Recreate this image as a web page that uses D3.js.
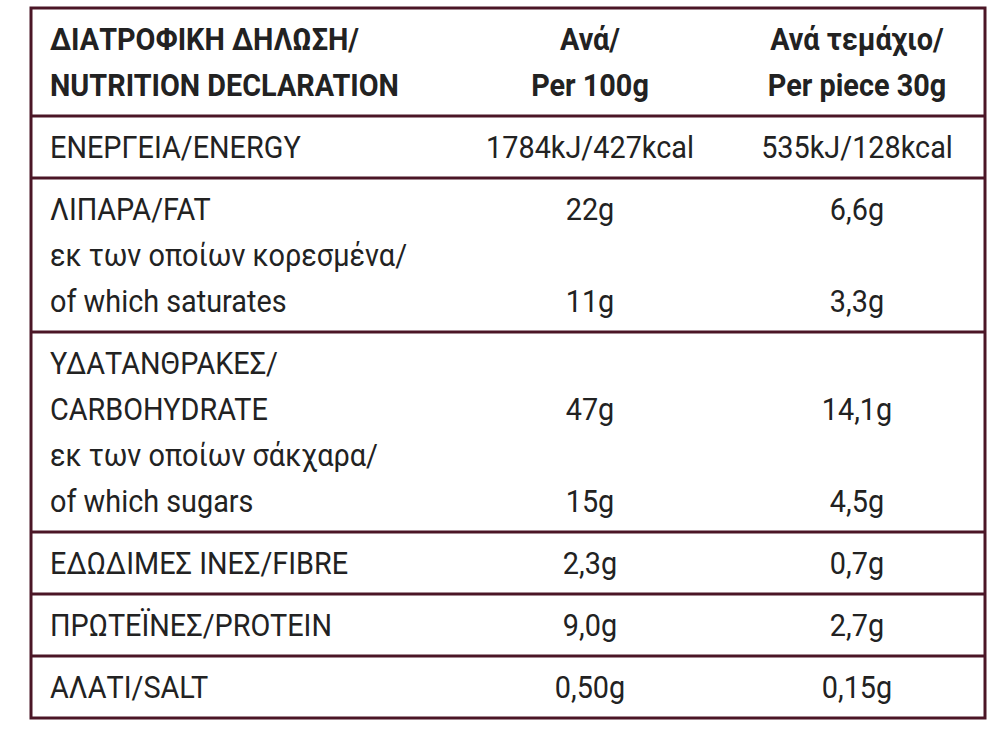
<!DOCTYPE html>
<html><head><meta charset="utf-8">
<script src="https://cdn.jsdelivr.net/npm/d3@7"></script>
<style>body{margin:0;background:#fff}text{font-family:Roboto,sans-serif;fill:#222}</style>
</head><body><svg id="c" width="1000" height="732"></svg>
<script>
const headerLabel=["ΔΙΑΤΡΟΦΙΚΗ ΔΗΛΩΣΗ/","NUTRITION DECLARATION"];
const headerPer100=["Ανά/","Per 100g"];
const headerPiece=["Ανά τεμάχιο/","Per piece 30g"];
const rowLabels=[
 ["ΕΝΕΡΓΕΙΑ/ENERGY"],
 ["ΛΙΠΑΡΑ/FAT","εκ των οποίων κορεσμένα/","of which saturates"],
 ["ΥΔΑΤΑΝΘΡΑΚΕΣ/","CARBOHYDRATE","εκ των οποίων σάκχαρα/","of which sugars"],
 ["ΕΔΩΔΙΜΕΣ ΙΝΕΣ/FIBRE"],
 ["ΠΡΩΤΕΪΝΕΣ/PROTEIN"],
 ["ΑΛΑΤΙ/SALT"]];
const valueLines=[[0],[0,2],[1,3],[0],[0],[0]];
const per100=[["1784kJ/427kcal"],["22g","11g"],["47g","15g"],["2,3g"],["9,0g"],["0,50g"]];
const perPiece=[["535kJ/128kcal"],["6,6g","3,3g"],["14,1g","4,5g"],["0,7g"],["2,7g"],["0,15g"]];

const svg=d3.select("#c");
const lineH=46,pad=16,tTop=8,tLeft=31,tRight=985;
const rows=[{lines:headerLabel.length,header:true}].concat(rowLabels.map((l,i)=>({lines:l.length,i})));
let yy0=tTop;rows.forEach(r=>{r.y0=yy0;r.h=r.lines*lineH+pad;yy0+=r.h;});
const tBottom=yy0;
const col=d3.scaleOrdinal().domain(["a","b","c"]).range([50,590,857]);
const color="#4b1626";
svg.append("rect").attr("x",tLeft).attr("y",tTop).attr("width",tRight-tLeft).attr("height",tBottom-tTop)
 .attr("fill","none").attr("stroke",color).attr("stroke-width",3);
svg.selectAll("line.sep").data(rows.slice(1)).join("line").attr("x1",tLeft).attr("x2",tRight)
 .attr("y1",d=>d.y0).attr("y2",d=>d.y0).attr("stroke",color).attr("stroke-width",3);
const base=(r,k)=>r.y0+8+(k+1)*lineH-12;
const fs=31;
function put(txt,x,y,anchor,bold){svg.append("text").attr("x",x).attr("y",y).attr("text-anchor",anchor)
 .attr("font-size",fs).attr("font-weight",bold?700:400).attr("transform",`translate(${x},0) scale(0.93,1) translate(${-x},0)`).text(txt);}
const h=rows[0];
headerLabel.forEach((t,k)=>put(t,col("a"),base(h,k),"start",true));
headerPer100.forEach((t,k)=>put(t,col("b"),base(h,k),"middle",true));
headerPiece.forEach((t,k)=>put(t,col("c"),base(h,k),"middle",true));
rows.slice(1).forEach(r=>{
 rowLabels[r.i].forEach((t,k)=>put(t,col("a"),base(r,k),"start",false));
 valueLines[r.i].forEach((ln,j)=>{put(per100[r.i][j],col("b"),base(r,ln),"middle",false);
  put(perPiece[r.i][j],col("c"),base(r,ln),"middle",false);});
});
</script></body></html>
